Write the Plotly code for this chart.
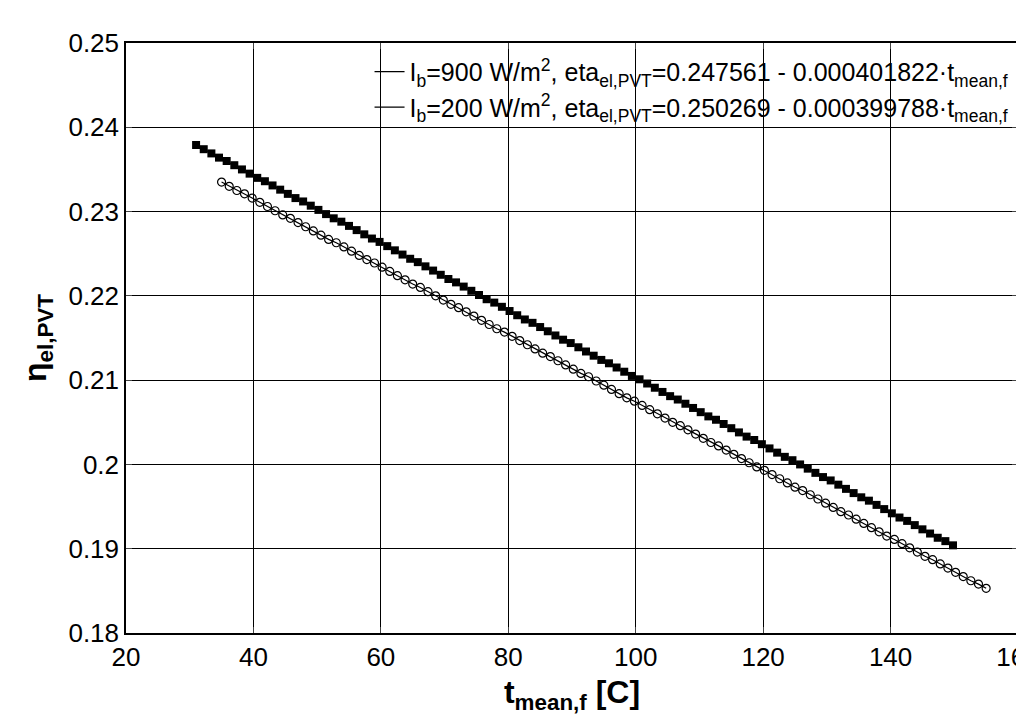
import plotly.graph_objects as go

# I_b = 200 W/m2 (filled squares)
t_200 = [31.0, 32.2, 33.4, 34.6, 35.8, 37.0, 38.2, 39.4, 40.6, 41.8, 43.0, 44.2, 45.4, 46.6, 47.8, 49.0, 50.2, 51.4, 52.6, 53.8,
         55.0, 56.2, 57.4, 58.6, 59.8, 61.0, 62.2, 63.4, 64.6, 65.8, 67.0, 68.2, 69.4, 70.6, 71.8, 73.0, 74.2, 75.4, 76.6, 77.8,
         79.0, 80.2, 81.4, 82.6, 83.8, 85.0, 86.2, 87.4, 88.6, 89.8, 91.0, 92.2, 93.4, 94.6, 95.8, 97.0, 98.2, 99.4, 100.6, 101.8,
         103.0, 104.2, 105.4, 106.6, 107.8, 109.0, 110.2, 111.4, 112.6, 113.8, 115.0, 116.2, 117.4, 118.6, 119.8, 121.0, 122.2, 123.4, 124.6, 125.8,
         127.0, 128.2, 129.4, 130.6, 131.8, 133.0, 134.2, 135.4, 136.6, 137.8, 139.0, 140.2, 141.4, 142.6, 143.8, 145.0, 146.2, 147.4, 148.6, 149.8]
eta_200 = [.2379, .2374, .2369, .2364, .2360, .2355, .2350, .2345, .2340, .2336,
           .2331, .2326, .2321, .2316, .2312, .2307, .2302, .2297, .2292, .2288,
           .2283, .2278, .2273, .2268, .2264, .2259, .2254, .2249, .2244, .2240,
           .2235, .2230, .2225, .2220, .2216, .2211, .2206, .2201, .2196, .2192,
           .2187, .2182, .2177, .2172, .2168, .2163, .2158, .2153, .2148, .2144,
           .2139, .2134, .2129, .2124, .2120, .2115, .2110, .2105, .2101, .2096,
           .2091, .2086, .2081, .2077, .2072, .2067, .2062, .2057, .2053, .2048,
           .2043, .2038, .2033, .2029, .2024, .2019, .2014, .2009, .2005, .2000,
           .1995, .1990, .1985, .1981, .1976, .1971, .1966, .1961, .1957, .1952,
           .1947, .1942, .1937, .1933, .1928, .1923, .1918, .1913, .1909, .1904]

# I_b = 900 W/m2 (open circles)
t_900 = [35.0, 36.2, 37.4, 38.6, 39.8, 41.0, 42.2, 43.4, 44.6, 45.8, 47.0, 48.2, 49.4, 50.6, 51.8, 53.0, 54.2, 55.4, 56.6, 57.8,
         59.0, 60.2, 61.4, 62.6, 63.8, 65.0, 66.2, 67.4, 68.6, 69.8, 71.0, 72.2, 73.4, 74.6, 75.8, 77.0, 78.2, 79.4, 80.6, 81.8,
         83.0, 84.2, 85.4, 86.6, 87.8, 89.0, 90.2, 91.4, 92.6, 93.8, 95.0, 96.2, 97.4, 98.6, 99.8, 101.0, 102.2, 103.4, 104.6, 105.8,
         107.0, 108.2, 109.4, 110.6, 111.8, 113.0, 114.2, 115.4, 116.6, 117.8, 119.0, 120.2, 121.4, 122.6, 123.8, 125.0, 126.2, 127.4, 128.6, 129.8,
         131.0, 132.2, 133.4, 134.6, 135.8, 137.0, 138.2, 139.4, 140.6, 141.8, 143.0, 144.2, 145.4, 146.6, 147.8, 149.0, 150.2, 151.4, 152.6, 153.8, 155.0]
eta_900 = [.2335, .2330, .2325, .2321, .2316, .2311, .2306, .2301, .2296, .2292,
           .2287, .2282, .2277, .2272, .2267, .2263, .2258, .2253, .2248, .2243,
           .2239, .2234, .2229, .2224, .2219, .2214, .2210, .2205, .2200, .2195,
           .2190, .2186, .2181, .2176, .2171, .2166, .2161, .2157, .2152, .2147,
           .2142, .2137, .2132, .2128, .2123, .2118, .2113, .2108, .2104, .2099,
           .2094, .2089, .2084, .2079, .2075, .2070, .2065, .2060, .2055, .2050,
           .2046, .2041, .2036, .2031, .2026, .2022, .2017, .2012, .2007, .2002,
           .1997, .1993, .1988, .1983, .1978, .1973, .1969, .1964, .1959, .1954,
           .1949, .1944, .1940, .1935, .1930, .1925, .1920, .1915, .1911, .1906,
           .1901, .1896, .1891, .1887, .1882, .1877, .1872, .1867, .1862, .1858, .1853]

label_900 = "I<sub>b</sub>=900 W/m<sup>2</sup>, eta<sub>el,PVT</sub>=0.247561 - 0.000401822·t<sub>mean,f</sub>"
label_200 = "I<sub>b</sub>=200 W/m<sup>2</sup>, eta<sub>el,PVT</sub>=0.250269 - 0.000399788·t<sub>mean,f</sub>"

fig = go.Figure()
fig.add_trace(go.Scatter(x=t_900, y=eta_900, mode='lines', name=label_900, line=dict(color='black', width=1.2)))
fig.add_trace(go.Scatter(x=t_200, y=eta_200, mode='lines', name=label_200, line=dict(color='black', width=1.2)))
fig.add_trace(go.Scatter(x=t_900, y=eta_900, mode='markers', showlegend=False,
                         marker=dict(symbol='circle-open', size=8, color='black', line=dict(width=1.2))))
fig.add_trace(go.Scatter(x=t_200, y=eta_200, mode='markers', showlegend=False,
                         marker=dict(symbol='square', size=8, color='black')))

axis_style = dict(showline=True, linecolor='black', linewidth=1.5, mirror='ticks', ticks='inside', ticklen=6,
                  showgrid=True, gridcolor='black', gridwidth=1, zeroline=False, ticklabeloverflow='allow',
                  tickfont=dict(size=26, color='black'))
fig.update_xaxes(range=[20, 160], dtick=20, title=dict(text='<b>t<sub>mean,f</sub> [C]</b>', font=dict(size=32, color='black'), standoff=10), **axis_style)
fig.update_yaxes(range=[0.18, 0.25], dtick=0.01, tickformat='.2~f', title=dict(text='<b>η<sub>el,PVT</sub></b>', font=dict(size=32, color='black'), standoff=12), **axis_style)

fig.update_layout(
    width=1024, height=727,
    font=dict(family='Liberation Sans, Arial', color='black'),
    paper_bgcolor='white', plot_bgcolor='white',
    margin=dict(l=118, r=14, t=35, b=102, autoexpand=False),
    legend=dict(x=0.995, y=0.99, xanchor='right', yanchor='top', bgcolor='rgba(0,0,0,0)',
                font=dict(size=25, color='black'), itemwidth=30, tracegroupgap=2),
)

fig.write_html("out.html")
